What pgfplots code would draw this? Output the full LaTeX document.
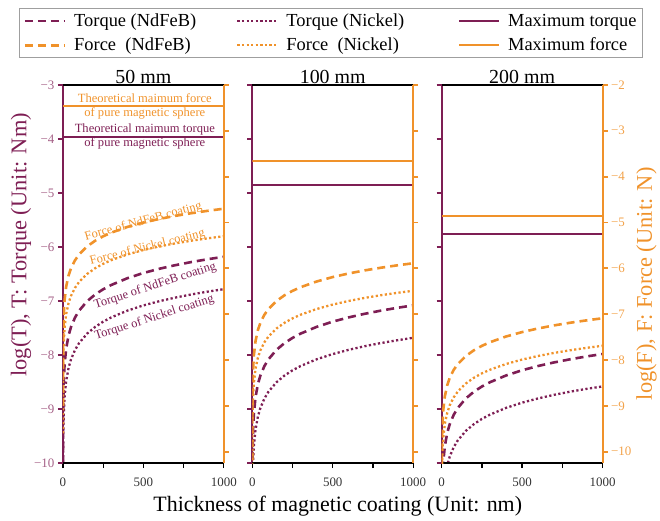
\documentclass[border=0pt]{standalone}
\usepackage{fontspec}
\setmainfont{Liberation Serif}
\usepackage{pgfplots}
\usepackage{pgfplotstable}
\pgfplotsset{compat=1.18}

\definecolor{tq}{RGB}{126,30,84}
\definecolor{fc}{RGB}{240,146,42}

% t = coating thickness (nm); tn/tni = log torque (NdFeB/Nickel); fn/fni = log force
\pgfplotstableread{
t tn tni fn fni
0.05 -10.481 -11.081 -9.001 -9.601
0.2 -9.879 -10.479 -8.399 -8.999
0.5 -9.481 -10.081 -8.001 -8.601
1 -9.180 -9.780 -7.700 -8.300
2 -8.879 -9.479 -7.399 -7.999
5 -8.481 -9.081 -7.001 -7.601
10 -8.180 -8.780 -6.700 -7.300
20 -7.879 -8.479 -6.399 -6.999
35 -7.636 -8.236 -6.156 -6.756
50 -7.481 -8.081 -6.001 -6.601
75 -7.305 -7.905 -5.825 -6.425
100 -7.180 -7.780 -5.700 -6.300
150 -7.004 -7.604 -5.524 -6.124
200 -6.879 -7.479 -5.399 -5.999
250 -6.782 -7.382 -5.302 -5.902
300 -6.703 -7.303 -5.223 -5.823
400 -6.578 -7.178 -5.098 -5.698
500 -6.481 -7.081 -5.001 -5.601
600 -6.402 -7.002 -4.922 -5.522
700 -6.335 -6.935 -4.855 -5.455
800 -6.277 -6.877 -4.797 -5.397
900 -6.226 -6.826 -4.746 -5.346
1000 -6.180 -6.780 -4.700 -5.300
}\panelA

\pgfplotstableread{
t tn tni fn fni
0.05 -11.381 -11.981 -10.191 -10.791
0.2 -10.779 -11.379 -9.589 -10.189
0.5 -10.381 -10.981 -9.191 -9.791
1 -10.080 -10.680 -8.890 -9.490
2 -9.779 -10.379 -8.589 -9.189
5 -9.381 -9.981 -8.191 -8.791
10 -9.080 -9.680 -7.890 -8.490
20 -8.779 -9.379 -7.589 -8.189
35 -8.536 -9.136 -7.346 -7.946
50 -8.381 -8.981 -7.191 -7.791
75 -8.205 -8.805 -7.015 -7.615
100 -8.080 -8.680 -6.890 -7.490
150 -7.904 -8.504 -6.714 -7.314
200 -7.779 -8.379 -6.589 -7.189
250 -7.682 -8.282 -6.492 -7.092
300 -7.603 -8.203 -6.413 -7.013
400 -7.478 -8.078 -6.288 -6.888
500 -7.381 -7.981 -6.191 -6.791
600 -7.302 -7.902 -6.112 -6.712
700 -7.235 -7.835 -6.045 -6.645
800 -7.177 -7.777 -5.987 -6.587
900 -7.126 -7.726 -5.936 -6.536
1000 -7.080 -7.680 -5.890 -6.490
}\panelB

\pgfplotstableread{
t tn tni fn fni
0.05 -12.281 -12.881 -11.391 -11.991
0.2 -11.679 -12.279 -10.789 -11.389
0.5 -11.281 -11.881 -10.391 -10.991
1 -10.980 -11.580 -10.090 -10.690
2 -10.679 -11.279 -9.789 -10.389
5 -10.281 -10.881 -9.391 -9.991
10 -9.980 -10.580 -9.090 -9.690
20 -9.679 -10.279 -8.789 -9.389
35 -9.436 -10.036 -8.546 -9.146
50 -9.281 -9.881 -8.391 -8.991
75 -9.105 -9.705 -8.215 -8.815
100 -8.980 -9.580 -8.090 -8.690
150 -8.804 -9.404 -7.914 -8.514
200 -8.679 -9.279 -7.789 -8.389
250 -8.582 -9.182 -7.692 -8.292
300 -8.503 -9.103 -7.613 -8.213
400 -8.378 -8.978 -7.488 -8.088
500 -8.281 -8.881 -7.391 -7.991
600 -8.202 -8.802 -7.312 -7.912
700 -8.135 -8.735 -7.245 -7.845
800 -8.077 -8.677 -7.187 -7.787
900 -8.026 -8.626 -7.136 -7.736
1000 -7.980 -8.580 -7.090 -7.690
}\panelC

\tikzset{
  ndfeb/.style={line width=2.6bp, dash pattern=on 8bp off 5bp},
  nickel/.style={line width=2.3bp, dash pattern=on 2.2bp off 2.4bp},
  maxline/.style={line width=2bp},
  paneltitle/.style={anchor=base, font=\rmfamily\fontsize{20}{22}\selectfont},
}

\pgfplotsset{
  panel/.style={
    scale only axis, width=161bp, height=378.5bp,
    xmin=0, xmax=1000, anchor=south west,
    clip mode=individual, axis line style={draw=none},
    tick align=outside, major tick length=5bp,
  },
  torque/.style={
    panel, ymin=-10, ymax=-3, ytick={-10,-9,...,-3},
    xtick pos=left, ytick pos=left,
    xtick={0,250,500,750,1000}, xticklabels={0,,500,,1000},
    xtick style={black, line width=1.3bp},
    ytick style={tq, line width=1.8bp},
    xticklabel style={font=\rmfamily\fontsize{13}{15}\selectfont, text=black!80, yshift=-6bp},
    yticklabel style={font=\rmfamily\fontsize{13}{15}\selectfont, text=tq!70},
    yticklabels={},
    after end axis/.code={
      \draw[tq, line width=2bp] (rel axis cs:0,0) -- (rel axis cs:0,1);
      \draw[black, line width=1.6bp] (rel axis cs:0,0) -- (rel axis cs:1,0);
      \draw[black, line width=1.2bp] (rel axis cs:0,1) -- (rel axis cs:1,1);
    },
  },
  force/.style={
    panel, ymin=-10.25, ymax=-2, ytick={-10,-9,...,-2},
    hide x axis, ytick pos=right,
    ytick style={fc, line width=1.8bp},
    yticklabel style={font=\rmfamily\fontsize{13}{15}\selectfont, text=fc!85},
    yticklabels={},
    after end axis/.code={
      \draw[fc, line width=2bp] (rel axis cs:1,0) -- (rel axis cs:1,1);
    },
  },
}

\begin{document}
\begin{tikzpicture}
\path (0bp,0bp) rectangle (660bp,521bp);

%% 50 mm
\begin{axis}[torque, at={(63bp,57.5bp)},
  yticklabels={−10,−9,−8,−7,−6,−5,−4,−3},
  legend columns=3, legend cell align=left,
  legend image code/.code={\draw[#1] (0bp,0bp) -- (40bp,0bp);},
  legend style={at={(1.667,1.137)}, anchor=center, draw=gray!75, line width=1bp,
    font=\rmfamily\fontsize{18.5}{20}\selectfont, inner xsep=4bp, inner ysep=3bp, row sep=6bp,
    /tikz/every odd column/.append style={column sep=6bp},
    /tikz/column 2/.append style={column sep=38bp},
    /tikz/column 4/.append style={column sep=52bp}},
  ]
\addlegendimage{tq, ndfeb}\addlegendentry{Torque (NdFeB)}
\addlegendimage{tq, nickel}\addlegendentry{Torque (Nickel)}
\addlegendimage{tq, maxline}\addlegendentry{Maximum torque}
\addlegendimage{fc, ndfeb}\addlegendentry{Force\ \ (NdFeB)}
\addlegendimage{fc, nickel}\addlegendentry{Force\ \ (Nickel)}
\addlegendimage{fc, maxline}\addlegendentry{Maximum force}
\addplot[tq, ndfeb, forget plot] table[x=t, y=tn] {\panelA};
\addplot[tq, nickel, forget plot] table[x=t, y=tni] {\panelA};
\addplot[tq, maxline, forget plot] coordinates {(0,-3.955) (1000,-3.955)};
\node[paneltitle] at (rel axis cs:0.5,1.005) {50 mm};
\node[tq, align=center, font=\rmfamily\fontsize{12.6}{13.5}\selectfont] at (axis cs:509,-3.955)
  {Theoretical maimum torque\\of pure magnetic sphere};
\node[fc, rotate=15, font=\rmfamily\fontsize{12.5}{15}\selectfont] at (axis cs:500,-5.53) {Force of NdFeB coating};
\node[fc, rotate=14, font=\rmfamily\fontsize{12.5}{15}\selectfont] at (axis cs:525,-6.01) {Force of Nickel coating};
\node[tq, rotate=18, font=\rmfamily\fontsize{12.5}{15}\selectfont] at (axis cs:574,-6.72) {Torque of NdFeB coating};
\node[tq, rotate=18, font=\rmfamily\fontsize{12.5}{15}\selectfont] at (axis cs:568,-7.31) {Torque of Nickel coating};
\end{axis}
\begin{axis}[force, at={(63bp,57.5bp)}]
\addplot[fc, ndfeb] table[x=t, y=fn] {\panelA};
\addplot[fc, nickel] table[x=t, y=fni] {\panelA};
\addplot[fc, maxline] coordinates {(0,-2.47) (1000,-2.47)};
\node[fc, align=center, font=\rmfamily\fontsize{12.6}{13.5}\selectfont] at (axis cs:509,-2.47)
  {Theoretical maimum force\\of pure magnetic sphere};
\end{axis}

%% 100 mm
\begin{axis}[torque, at={(252.5bp,57.5bp)}]
\addplot[tq, ndfeb] table[x=t, y=tn] {\panelB};
\addplot[tq, nickel] table[x=t, y=tni] {\panelB};
\addplot[tq, maxline] coordinates {(0,-4.85) (1000,-4.85)};
\node[paneltitle] at (rel axis cs:0.5,1.005) {100 mm};
\end{axis}
\begin{axis}[force, at={(252.5bp,57.5bp)}]
\addplot[fc, ndfeb] table[x=t, y=fn] {\panelB};
\addplot[fc, nickel] table[x=t, y=fni] {\panelB};
\addplot[fc, maxline] coordinates {(0,-3.67) (1000,-3.67)};
\end{axis}

%% 200 mm
\begin{axis}[torque, at={(442bp,57.5bp)}]
\addplot[tq, ndfeb] table[x=t, y=tn] {\panelC};
\addplot[tq, nickel] table[x=t, y=tni] {\panelC};
\addplot[tq, maxline] coordinates {(0,-5.75) (1000,-5.75)};
\node[paneltitle] at (rel axis cs:0.5,1.005) {200 mm};
\end{axis}
\begin{axis}[force, at={(442bp,57.5bp)},
  yticklabels={−10,−9,−8,−7,−6,−5,−4,−3,−2}]
\addplot[fc, ndfeb] table[x=t, y=fn] {\panelC};
\addplot[fc, nickel] table[x=t, y=fni] {\panelC};
\addplot[fc, maxline] coordinates {(0,-4.87) (1000,-4.87)};
\end{axis}

\node[anchor=base, font=\rmfamily\fontsize{22}{24}\selectfont] at (338bp,9bp)
  {Thickness of magnetic coating (Unit: nm)};
\node[rotate=90, text=tq, font=\rmfamily\fontsize{22.5}{24}\selectfont] at (21bp,276bp)
  {log(T), T: Torque (Unit: Nm)};
\node[rotate=90, text=fc, font=\rmfamily\fontsize{22.5}{24}\selectfont] at (647bp,237bp)
  {log(F), F: Force (Unit: N)};
\end{tikzpicture}
\end{document}
